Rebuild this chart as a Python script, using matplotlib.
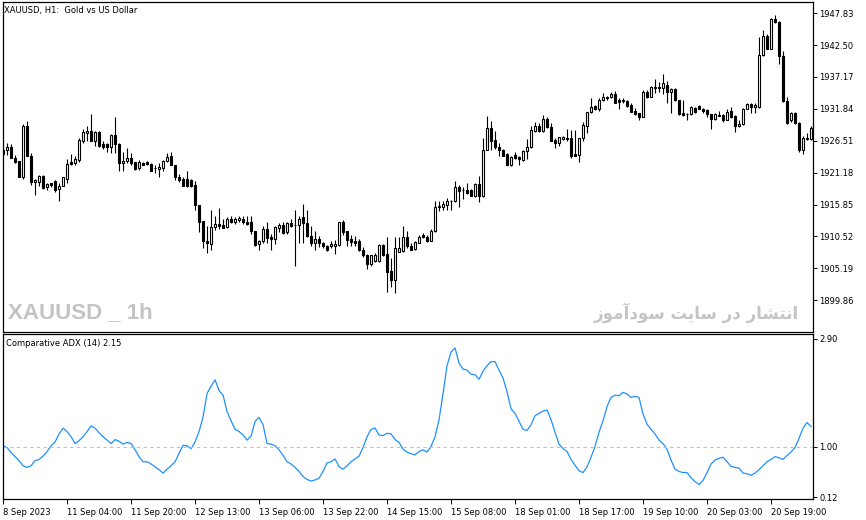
import numpy as np
import matplotlib
matplotlib.use("Agg")
from matplotlib import pyplot as plt

# XAUUSD H1 candles, 8 Sep 2023 -> 21 Sep 2023
opens = [1925.0, 1924.9, 1925.5, 1923.6, 1923.1, 1920.5, 1928.9, 1924.0, 1919.7, 1919.7,
         1920.6, 1918.8, 1919.4, 1919.8, 1918.4, 1919.0, 1920.1, 1922.9, 1922.8, 1923.3,
         1926.5, 1927.8, 1928.1, 1926.5, 1928.0, 1926.0, 1926.0, 1925.4, 1927.5, 1926.0,
         1922.8, 1923.1, 1923.6, 1922.9, 1921.9, 1922.8, 1922.9, 1922.6, 1922.0, 1921.8,
         1921.9, 1923.1, 1924.0, 1922.4, 1920.4, 1920.1, 1920.1, 1920.0, 1919.1, 1915.8,
         1913.1, 1909.8, 1909.3, 1912.1, 1912.6, 1912.5, 1912.1, 1913.4, 1913.0, 1913.2,
         1913.5, 1913.0, 1912.9, 1911.5, 1909.3, 1909.7, 1911.8, 1910.5, 1910.1, 1912.0,
         1912.4, 1911.2, 1912.8, 1912.4, 1912.5, 1913.7, 1912.8, 1910.6, 1909.5, 1910.1,
         1909.4, 1909.0, 1908.9, 1908.9, 1909.1, 1912.9, 1911.4, 1910.1, 1909.8, 1909.7,
         1908.3, 1907.5, 1905.9, 1906.4, 1906.4, 1909.1, 1907.6, 1904.7, 1903.2, 1908.0,
         1908.1, 1910.5, 1909.0, 1908.4, 1909.5, 1910.8, 1910.5, 1909.8, 1911.4, 1915.4,
         1915.5, 1915.7, 1916.4, 1916.4, 1918.8, 1918.3, 1918.3, 1918.2, 1917.2, 1919.3,
         1917.2, 1925.0, 1928.6, 1926.6, 1925.4, 1925.0, 1924.3, 1922.5, 1924.1, 1923.8,
         1923.3, 1924.8, 1925.4, 1928.2, 1929.0, 1928.2, 1930.1, 1928.8, 1926.6, 1926.2,
         1926.8, 1926.9, 1926.9, 1924.3, 1924.1, 1926.9, 1929.0, 1931.3, 1932.3, 1931.8,
         1933.4, 1933.7, 1933.8, 1934.3, 1933.3, 1933.2, 1933.2, 1932.5, 1931.5, 1931.1,
         1930.5, 1934.7, 1933.9, 1935.4, 1935.4, 1935.4, 1935.9, 1934.7, 1935.1, 1933.3,
         1931.1, 1930.9, 1930.9, 1932.0, 1932.4, 1931.9, 1931.6, 1930.9, 1930.1, 1930.7,
         1930.8, 1930.0, 1931.5, 1930.6, 1928.9, 1929.3, 1931.9, 1932.6, 1932.2, 1932.1,
         1940.8, 1944.1, 1941.9, 1946.9, 1946.4, 1940.6, 1933.2, 1929.9, 1931.2, 1929.5,
         1925.0, 1926.8, 1926.8]
highs = [1925.1, 1926.2, 1925.9, 1924.1, 1923.1, 1929.3, 1929.8, 1924.4, 1920.1, 1920.8,
         1920.8, 1919.5, 1919.5, 1920.0, 1919.4, 1920.5, 1923.4, 1924.3, 1924.0, 1927.0,
         1928.4, 1928.9, 1931.0, 1928.1, 1928.1, 1926.4, 1926.2, 1927.6, 1930.4, 1926.1,
         1924.6, 1925.3, 1924.5, 1923.0, 1923.3, 1922.9, 1923.1, 1922.8, 1922.5, 1922.8,
         1923.3, 1924.5, 1924.6, 1922.4, 1921.0, 1920.4, 1921.5, 1920.2, 1919.8, 1915.8,
         1913.1, 1912.2, 1915.0, 1914.0, 1915.2, 1913.4, 1913.7, 1913.9, 1913.7, 1914.0,
         1913.9, 1913.9, 1914.0, 1911.5, 1910.0, 1912.2, 1912.9, 1911.0, 1912.3, 1912.8,
         1912.9, 1912.9, 1913.4, 1914.9, 1913.9, 1916.0, 1915.0, 1912.2, 1911.4, 1910.6,
         1909.6, 1909.1, 1909.8, 1909.9, 1913.0, 1913.2, 1911.5, 1910.8, 1910.6, 1910.1,
         1908.8, 1907.6, 1907.5, 1907.8, 1909.3, 1909.3, 1910.5, 1906.9, 1910.5, 1910.5,
         1912.3, 1911.5, 1909.4, 1909.7, 1910.8, 1911.1, 1910.8, 1911.8, 1916.4, 1916.4,
         1916.5, 1917.0, 1916.6, 1919.8, 1919.1, 1918.8, 1919.5, 1918.5, 1919.4, 1920.6,
         1926.9, 1930.6, 1929.8, 1928.1, 1926.1, 1925.1, 1924.4, 1923.9, 1924.6, 1923.9,
         1924.9, 1926.8, 1929.0, 1929.6, 1929.4, 1930.8, 1930.4, 1929.5, 1926.9, 1927.2,
         1927.3, 1928.5, 1928.3, 1928.3, 1927.0, 1929.7, 1931.4, 1933.6, 1932.5, 1933.7,
         1934.5, 1934.0, 1934.7, 1934.8, 1933.6, 1933.6, 1933.4, 1932.8, 1932.0, 1931.2,
         1935.0, 1935.0, 1935.6, 1936.9, 1936.4, 1937.6, 1936.5, 1935.3, 1935.3, 1933.4,
         1933.3, 1931.1, 1932.3, 1932.2, 1932.5, 1932.0, 1931.8, 1931.0, 1931.2, 1931.5,
         1931.0, 1931.9, 1932.2, 1930.8, 1930.0, 1932.0, 1932.8, 1932.8, 1932.8, 1943.9,
         1945.0, 1944.4, 1947.1, 1947.6, 1946.5, 1941.5, 1933.9, 1931.4, 1931.4, 1929.7,
         1927.3, 1927.8, 1928.9]
lows = [1924.1, 1924.1, 1923.6, 1922.8, 1920.4, 1920.2, 1923.9, 1919.1, 1917.4, 1918.9,
        1918.4, 1918.2, 1918.8, 1918.0, 1916.5, 1918.9, 1919.4, 1922.5, 1922.5, 1923.0,
        1926.1, 1926.4, 1926.4, 1925.6, 1925.4, 1925.1, 1924.7, 1924.5, 1924.5, 1921.5,
        1921.5, 1922.8, 1922.5, 1921.6, 1921.6, 1922.4, 1922.5, 1921.4, 1921.2, 1920.4,
        1921.5, 1923.0, 1922.4, 1920.0, 1919.7, 1918.9, 1918.8, 1918.8, 1915.0, 1911.2,
        1908.6, 1907.8, 1908.3, 1911.6, 1911.8, 1911.9, 1911.9, 1912.8, 1912.6, 1913.0,
        1912.6, 1912.5, 1910.9, 1909.0, 1908.2, 1909.4, 1909.5, 1908.2, 1909.3, 1911.2,
        1911.0, 1911.0, 1912.1, 1905.5, 1909.4, 1909.5, 1910.4, 1908.9, 1908.3, 1908.8,
        1908.6, 1908.1, 1908.6, 1907.6, 1909.0, 1910.8, 1909.0, 1908.9, 1909.0, 1908.1,
        1907.1, 1905.1, 1905.5, 1906.2, 1906.3, 1907.2, 1901.2, 1902.1, 1901.1, 1908.0,
        1908.0, 1908.6, 1908.2, 1908.3, 1909.4, 1910.3, 1909.6, 1909.7, 1911.2, 1914.8,
        1914.9, 1915.0, 1915.0, 1916.2, 1915.5, 1916.8, 1917.6, 1917.2, 1917.1, 1916.2,
        1917.1, 1924.9, 1924.9, 1925.1, 1924.0, 1924.0, 1922.5, 1922.3, 1923.4, 1922.5,
        1923.2, 1923.4, 1925.3, 1928.0, 1927.9, 1927.9, 1928.6, 1926.4, 1925.3, 1925.7,
        1926.6, 1926.5, 1923.7, 1923.9, 1922.9, 1926.4, 1927.8, 1931.1, 1931.6, 1931.5,
        1933.2, 1933.4, 1933.6, 1932.8, 1931.9, 1932.8, 1932.2, 1931.3, 1930.8, 1929.9,
        1930.4, 1933.6, 1933.8, 1934.5, 1934.6, 1934.4, 1932.9, 1931.2, 1933.2, 1930.8,
        1930.6, 1929.9, 1930.8, 1931.1, 1931.8, 1931.2, 1930.4, 1928.5, 1930.0, 1930.6,
        1929.7, 1929.9, 1930.3, 1928.0, 1928.8, 1929.1, 1931.8, 1931.1, 1931.1, 1932.0,
        1940.7, 1941.8, 1941.8, 1946.2, 1939.4, 1933.0, 1929.3, 1929.7, 1929.3, 1924.7,
        1924.3, 1926.6, 1926.6]
closes = [1924.3, 1925.4, 1923.6, 1923.0, 1920.5, 1928.9, 1923.9, 1919.7, 1919.9, 1920.6,
          1918.6, 1919.3, 1919.1, 1918.3, 1919.0, 1920.4, 1922.6, 1922.6, 1923.4, 1926.6,
          1928.0, 1928.1, 1926.5, 1928.0, 1925.6, 1925.5, 1925.4, 1927.5, 1925.9, 1922.8,
          1923.1, 1923.6, 1922.8, 1921.8, 1922.9, 1922.5, 1922.6, 1921.5, 1921.9, 1922.2,
          1923.1, 1923.8, 1922.4, 1920.4, 1920.0, 1919.0, 1919.0, 1919.0, 1915.7, 1913.0,
          1909.7, 1909.4, 1912.1, 1912.6, 1912.3, 1912.0, 1913.5, 1912.9, 1913.4, 1913.6,
          1912.9, 1912.6, 1911.5, 1909.1, 1909.8, 1911.8, 1910.3, 1910.1, 1912.1, 1912.4,
          1911.1, 1912.8, 1912.3, 1912.5, 1913.5, 1912.8, 1910.6, 1909.5, 1910.1, 1909.4,
          1908.9, 1908.2, 1909.3, 1909.3, 1912.9, 1911.2, 1910.0, 1909.6, 1909.5, 1908.2,
          1907.4, 1905.9, 1907.4, 1907.5, 1909.1, 1907.5, 1904.5, 1903.2, 1908.6, 1908.6,
          1910.5, 1908.9, 1908.3, 1909.6, 1910.5, 1910.4, 1909.7, 1911.5, 1915.5, 1915.6,
          1915.9, 1916.4, 1916.5, 1918.8, 1918.1, 1918.2, 1917.8, 1917.2, 1919.3, 1917.2,
          1924.9, 1928.6, 1926.5, 1925.4, 1924.9, 1924.0, 1922.5, 1923.8, 1923.7, 1923.4,
          1924.8, 1925.4, 1928.3, 1929.0, 1928.1, 1930.1, 1928.8, 1926.5, 1926.2, 1927.1,
          1927.1, 1926.8, 1924.0, 1924.0, 1926.9, 1929.1, 1931.3, 1932.2, 1931.8, 1933.4,
          1933.8, 1933.8, 1934.3, 1932.9, 1933.0, 1933.4, 1932.4, 1931.4, 1931.0, 1930.5,
          1934.7, 1933.8, 1935.5, 1935.5, 1935.5, 1936.2, 1934.7, 1935.1, 1933.3, 1931.0,
          1930.8, 1931.0, 1932.1, 1931.4, 1931.9, 1931.5, 1930.9, 1930.1, 1931.0, 1930.8,
          1929.9, 1931.3, 1930.5, 1928.9, 1929.3, 1931.9, 1932.6, 1932.2, 1932.5, 1940.8,
          1944.1, 1941.9, 1946.9, 1946.4, 1940.6, 1933.2, 1929.4, 1931.2, 1929.4, 1925.0,
          1926.9, 1927.0, 1928.7]

# Comparative ADX (14)
cadx = [1.02, 0.99, 0.90, 0.83, 0.76, 0.67, 0.64, 0.67, 0.76, 0.78,
        0.84, 0.92, 1.02, 1.09, 1.23, 1.33, 1.27, 1.18, 1.06, 1.11,
        1.18, 1.27, 1.37, 1.33, 1.25, 1.18, 1.12, 1.06, 1.13, 1.10,
        1.05, 1.08, 1.06, 0.95, 0.83, 0.74, 0.74, 0.70, 0.65, 0.60,
        0.54, 0.61, 0.67, 0.74, 0.89, 1.03, 1.02, 0.97, 1.09, 1.27,
        1.53, 1.94, 2.07, 2.18, 1.99, 1.91, 1.62, 1.46, 1.31, 1.27,
        1.21, 1.12, 1.19, 1.45, 1.52, 1.39, 1.06, 1.05, 1.02, 0.95,
        0.85, 0.74, 0.70, 0.64, 0.57, 0.48, 0.43, 0.40, 0.42, 0.45,
        0.57, 0.72, 0.74, 0.79, 0.65, 0.61, 0.67, 0.74, 0.79, 0.84,
        0.99, 1.18, 1.31, 1.33, 1.21, 1.20, 1.24, 1.23, 1.13, 1.08,
        0.96, 0.91, 0.88, 0.86, 0.92, 0.95, 0.91, 1.01, 1.18, 1.48,
        1.94, 2.43, 2.67, 2.74, 2.47, 2.37, 2.35, 2.28, 2.27, 2.19,
        2.33, 2.43, 2.50, 2.50, 2.35, 2.21, 1.97, 1.67, 1.59, 1.45,
        1.31, 1.29, 1.39, 1.55, 1.59, 1.63, 1.65, 1.48, 1.26, 1.05,
        0.97, 0.92, 0.78, 0.68, 0.58, 0.55, 0.65, 0.82, 1.01, 1.26,
        1.46, 1.71, 1.87, 1.91, 1.90, 1.96, 1.93, 1.87, 1.89, 1.87,
        1.58, 1.40, 1.31, 1.23, 1.12, 1.06, 0.96, 0.77, 0.61, 0.57,
        0.55, 0.55, 0.46, 0.39, 0.34, 0.41, 0.55, 0.70, 0.77, 0.80,
        0.82, 0.74, 0.66, 0.64, 0.63, 0.54, 0.53, 0.50, 0.54, 0.60,
        0.67, 0.74, 0.78, 0.83, 0.81, 0.78, 0.85, 0.91, 0.99, 1.15,
        1.33, 1.43, 1.36]

price_ticks = [1899.86, 1905.19, 1910.52, 1915.85, 1921.18,
               1926.51, 1931.84, 1937.17, 1942.50, 1947.83]
adx_ticks = [0.12, 1.00, 2.90]
time_labels = ["8 Sep 2023", "11 Sep 04:00", "11 Sep 20:00", "12 Sep 13:00",
               "13 Sep 06:00", "13 Sep 22:00", "14 Sep 15:00", "15 Sep 08:00",
               "18 Sep 01:00", "18 Sep 17:00", "19 Sep 10:00", "20 Sep 03:00",
               "20 Sep 19:00"]
time_pos = list(range(0, 16 * len(time_labels), 16))

W, H = 866, 520
fig = plt.figure(figsize=(W / 100, H / 100), dpi=100)
fig.patch.set_facecolor("white")

left = 2.7 / W
width = (813 - 2.7) / W
ax1 = fig.add_axes([left, 1 - 332.3 / H, width, (332.3 - 2) / H])
ax2 = fig.add_axes([left, 1 - 499.3 / H, width, (499.3 - 334.3) / H])

o = np.array(opens)
c = np.array(closes)
x = np.arange(len(c))
up = c >= o
lo = np.minimum(o, c)
hgt = np.abs(c - o)

ax1.vlines(x, lows, highs, color="black", lw=0.8, zorder=2)
ax1.bar(x[up], hgt[up], bottom=lo[up], width=0.5, color="white",
        edgecolor="black", linewidth=0.8, zorder=3)
ax1.bar(x[~up], hgt[~up], bottom=lo[~up], width=0.5, color="black",
        edgecolor="black", linewidth=0.8, zorder=3)

ax1.set_xlim(-0.1, 202.5)
ax1.set_ylim(1894.5, 1949.7)
ax1.yaxis.tick_right()
ax1.set_yticks(price_ticks)
ax1.set_yticklabels(["%.2f" % v for v in price_ticks])
ax1.set_xticks([])

ax2.plot(x, cadx, color="#1e90ff", lw=0.9)
ax2.axhline(1.0, color="#c0c0c0", lw=0.8, dashes=(3, 3))
ax2.set_xlim(-0.1, 202.5)
ax2.set_ylim(0.08, 2.98)
ax2.yaxis.tick_right()
ax2.set_yticks(adx_ticks)
ax2.set_yticklabels(["%.2f" % v for v in adx_ticks])
ax2.set_xticks(time_pos)
ax2.set_xticklabels(time_labels, ha="left")

for ax in (ax1, ax2):
    for s in ax.spines.values():
        s.set_linewidth(0.9)
        s.set_color("black")
    ax.tick_params(axis="y", direction="out", length=3, width=0.7, pad=1.5,
                   labelsize=6, colors="black")
    ax.tick_params(axis="x", direction="out", length=3.5, width=0.7, pad=2.5,
                   labelsize=6, colors="black")

fig.text(4 / W, 1 - 10.5 / H, "XAUUSD, H1:  Gold vs US Dollar", fontsize=6,
         va="center", ha="left", family="DejaVu Sans")
fig.text(6 / W, 1 - 343.5 / H, "Comparative ADX (14) 2.15", fontsize=6,
         va="center", ha="left", family="DejaVu Sans")

fig.text(8 / W, 1 - 312.5 / H, "XAUUSD _ 1h", fontsize=16, fontweight="bold",
         color="#c4c4c4", va="center", ha="left",
         family=["Liberation Sans Narrow", "Liberation Sans"])
# Persian watermark, glyphs given in display order
fa = ("\ufeaf\ufeee\ufee3\ufe81\ufea9\ufeee\ufeb3 "
      "\ufe96\ufef3\ufe8e\ufeb3 "
      "\ufead\ufea9 "
      "\ufead\ufe8e\ufeb8\ufe98\ufee7\ufe8d")
fig.text(799 / W, 1 - 313 / H, fa, fontsize=12, fontweight="bold",
         color="#c4c4c4", va="center", ha="right", family="DejaVu Sans")

fig.savefig("out.png", dpi=100)
